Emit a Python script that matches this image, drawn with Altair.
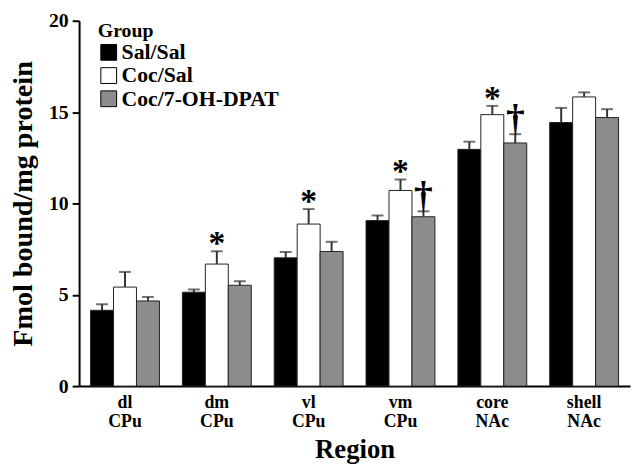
import altair as alt
import pandas as pd

regions = ["dl CPu", "dm CPu", "vl CPu", "vm CPu", "core NAc", "shell NAc"]
groups = ["Sal/Sal", "Coc/Sal", "Coc/7-OH-DPAT"]
sal_sal = [4.15, 5.14, 7.02, 9.06, 12.96, 14.43]
sal_sal_sem = [0.33, 0.15, 0.32, 0.28, 0.42, 0.8]
coc_sal = [5.42, 6.68, 8.87, 10.71, 14.86, 15.83]
coc_sal_sem = [0.83, 0.7, 0.82, 0.6, 0.48, 0.25]
coc_dpat = [4.66, 5.52, 7.37, 9.27, 13.31, 14.7]
coc_dpat_sem = [0.22, 0.22, 0.53, 0.3, 0.48, 0.46]
asterisk_regions = ["dm CPu", "vl CPu", "vm CPu", "core NAc"]
dagger_regions = ["vm CPu", "core NAc"]

rows = []
for g, means, sems in zip(groups, [sal_sal, coc_sal, coc_dpat], [sal_sal_sem, coc_sal_sem, coc_dpat_sem]):
    for r, m, s in zip(regions, means, sems):
        mark = ""
        if g == "Coc/Sal" and r in asterisk_regions:
            mark = "*"
        if g == "Coc/7-OH-DPAT" and r in dagger_regions:
            mark = "†"
        rows.append({"Region": r, "Group": g, "mean": m, "top": m + s, "mark": mark})
df = pd.DataFrame(rows)

FONT = "Liberation Serif"

x = alt.X("Region:N", sort=regions, title="Region",
          scale=alt.Scale(paddingInner=0.25, paddingOuter=0.125),
          axis=alt.Axis(labelAngle=0, ticks=False, labelExpr="split(datum.label, ' ')",
                        labelFont=FONT, labelFontSize=18, labelFontWeight="bold",
                        labelColor="black", labelPadding=8, labelLineHeight=19,
                        titleFont=FONT, titleFontSize=27, titleFontWeight="bold",
                        titleColor="black", titlePadding=6,
                        domainColor="black", domainWidth=2))
xo = alt.XOffset("Group:N", sort=groups, scale=alt.Scale(paddingInner=0, paddingOuter=0))
y = alt.Y("mean:Q", title="Fmol bound/mg protein",
          scale=alt.Scale(domain=[0, 20], nice=False),
          axis=alt.Axis(values=[0, 5, 10, 15, 20], grid=False, tickSize=7, tickWidth=2,
                        tickColor="black", domainColor="black", domainWidth=2,
                        labelFont=FONT, labelFontSize=20, labelFontWeight="bold",
                        labelColor="black", labelPadding=4,
                        titleFont=FONT, titleFontSize=28.5, titleFontWeight="bold",
                        titleColor="black", titlePadding=11))

color = alt.Color("Group:N", sort=groups,
                  scale=alt.Scale(domain=groups, range=["#000000", "#ffffff", "#8c8c8c"]),
                  legend=alt.Legend(orient="none", legendX=19, legendY=0, title="Group",
                                    titleFont=FONT, titleFontSize=20, titleFontWeight="bold",
                                    titleColor="black", titlePadding=1,
                                    labelFont=FONT, labelFontSize=22, labelFontWeight="bold",
                                    labelColor="black", labelOffset=2,
                                    symbolType="square", symbolSize=256,
                                    symbolStrokeColor="black", symbolStrokeWidth=1,
                                    rowPadding=1.5))

base = alt.Chart(df)
bars = base.mark_bar(stroke="#222222", strokeWidth=1).encode(x=x, xOffset=xo, y=y, color=color)
rule = base.mark_rule(color="#333333", strokeWidth=2).encode(
    x=x, xOffset=xo, y="mean:Q", y2="top:Q")
cap = base.mark_tick(color="#333333", thickness=2, size=12, orient="horizontal").encode(
    x=x, xOffset=xo, y="top:Q")
star = base.transform_filter("datum.mark == '*'").mark_text(
    font=FONT, fontSize=34, fontWeight="bold", color="black", baseline="alphabetic", dy=3
).encode(x=x, xOffset=xo, y="top:Q", text="mark:N")
dagger = base.transform_filter("datum.mark == '†'").mark_text(
    font=FONT, fontSize=38, fontWeight="bold", color="black", baseline="alphabetic", dy=-3
).encode(x=x, xOffset=xo, y="top:Q", text="mark:N")

chart = alt.layer(bars, rule, cap, star, dagger).properties(
    width=558, height=370,
    autosize=alt.AutoSizeParams(type="none"),
    padding={"left": 72, "top": 10, "right": 4, "bottom": 78},
).configure_view(stroke=None)

chart.save("out.html", embed_options={"renderer": "svg", "actions": False})
